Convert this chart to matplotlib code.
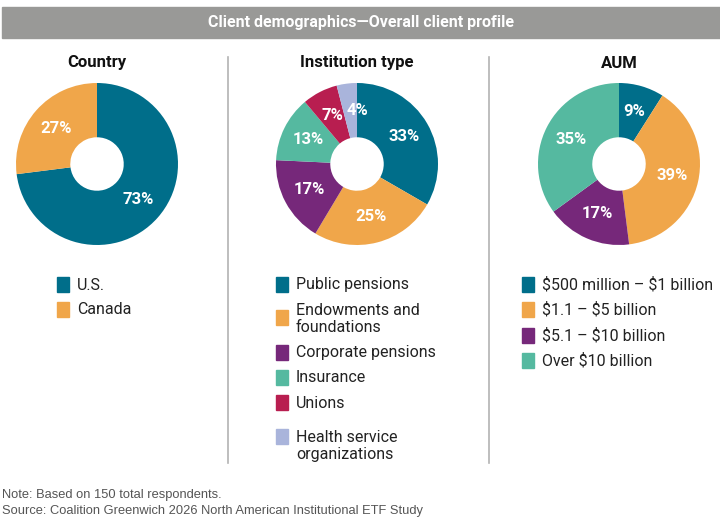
import numpy as np
import matplotlib.pyplot as plt
from matplotlib.patches import Rectangle

# ---- data ----
country_labels = ['U.S.', 'Canada']
country_values = [73, 27]

inst_labels = ['Public pensions', 'Endowments and\nfoundations', 'Corporate pensions',
               'Insurance', 'Unions', 'Health service\norganizations']
inst_values = [33, 25, 17, 13, 7, 4]

aum_labels = ['$500 million \u2013 $1 billion', '$1.1 \u2013 $5 billion',
              '$5.1 \u2013 $10 billion', 'Over $10 billion']
aum_values = [9, 39, 17, 35]

country_colors = ['#006e8a', '#f0a64a']
inst_colors = ['#006e8a', '#f0a64a', '#76287a', '#55b9a0', '#b81e50', '#a9b4db']
aum_colors = ['#006e8a', '#f0a64a', '#76287a', '#55b9a0']

W, H = 720, 527

fig = plt.figure(figsize=(W / 100, H / 100), dpi=100)


def px(x, y):
    # pixel coords (top-left origin) -> figure fraction
    return x / W, 1 - y / H


# title bar
fig.patches.append(Rectangle((2 / W, 1 - 38 / H), 718 / W, 31 / H,
                             transform=fig.transFigure, color='#999997', zorder=0))
fig.text(*px(361, 22), 'Client demographics\u2014Overall client profile', color='white',
         fontsize=11.5, fontweight='bold', family='Roboto', ha='center', va='center')

# dividers
for xd in (228, 489):
    fig.add_artist(plt.Line2D([xd / W, xd / W], [1 - 57 / H, 1 - 463 / H],
                              transform=fig.transFigure, color='#b3b3b3', lw=1.2))


def donut(cx, cy, r, values, colors, title):
    ax = fig.add_axes([(cx - r) / W, 1 - (cy + r) / H, 2 * r / W, 2 * r / H])
    wedges, _ = ax.pie(values, colors=colors, startangle=90, counterclock=False,
                       radius=1, wedgeprops=dict(width=0.67, linewidth=0))
    for w, v in zip(wedges, values):
        ang = np.deg2rad((w.theta1 + w.theta2) / 2)
        lx, ly = 0.67 * np.cos(ang), 0.67 * np.sin(ang)
        ha = 'center'
        if v < 5:  # tiny slice: label starts at the slice instead of centring on it
            ha = 'left'
            lx -= 0.04
        ax.text(lx, ly, f'{v}%', color='white', fontsize=12, fontweight='bold',
                family='Roboto', ha=ha, va='center')
    ax.set_xlim(-1, 1)
    ax.set_ylim(-1, 1)
    ax.set_aspect('equal')
    ax.axis('off')
    fig.text(*px(cx, 63), title, fontsize=12, fontweight='bold', family='Roboto',
             ha='center', va='center', color='#111111')


donut(97, 164, 81, country_values, country_colors, 'Country')
donut(357, 164, 81, inst_values, inst_colors, 'Institution type')
donut(619, 164, 81, aum_values, aum_colors, 'AUM')


def legend(x0, rows, boxes, labels, colors):
    for y, yb, lab, col in zip(rows, boxes, labels, colors):
        fig.patches.append(Rectangle((x0 / W, 1 - (yb + 7) / H), 12 / W, 15 / H,
                                     transform=fig.transFigure, color=col))
        fig.text(*px(x0 + 20, y), lab, fontsize=11.5, family='Roboto', parse_math=False,
                 ha='left', va='center', color='#222222', linespacing=1.15)


legend(57, [285, 310], [285, 310], country_labels, country_colors)
legend(276, [285, 319, 353, 378, 403, 446], [285, 318, 353, 378, 403, 437],
       inst_labels, inst_colors)
legend(522, [285, 310, 336, 361], [285, 310, 336, 361], aum_labels, aum_colors)

# notes
fig.text(*px(2, 495), 'Note: Based on 150 total respondents.', fontsize=9.3,
         family='Liberation Sans', color='#555555', va='center')
fig.text(*px(2, 511), 'Source: Coalition Greenwich 2026 North American Institutional ETF Study',
         fontsize=9.3, family='Liberation Sans', color='#555555', va='center')

plt.savefig('out.png', dpi=100)
plt.close('all')
